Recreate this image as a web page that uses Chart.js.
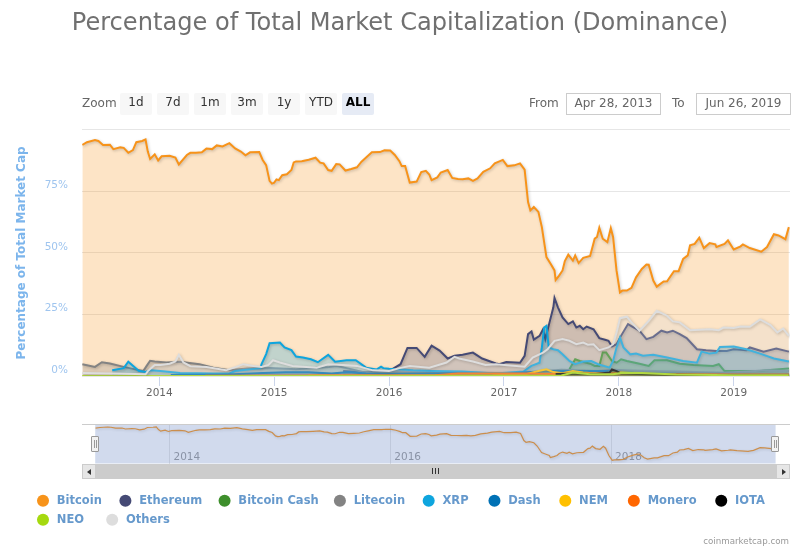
<!DOCTYPE html>
<html><head><meta charset="utf-8">
<script src="https://cdn.jsdelivr.net/npm/chart.js@4"></script>
<style>
html,body{margin:0;padding:0;background:#fff;width:800px;height:550px;overflow:hidden}
body{font-family:"DejaVu Sans",sans-serif;position:relative}
canvas{position:absolute;left:0}
.a{position:absolute;box-sizing:border-box}
.lbl{color:#666;font-size:12px;line-height:20px;top:93px}
.btn{top:93px;height:22px;width:32px;background:#f7f7f7;border-radius:2px;color:#333;font-size:12px;line-height:18px;text-align:center}
.btn.on{background:#e6ebf5;color:#000;font-weight:bold}
.inp{top:93px;height:22px;width:95px;border:1px solid #ccc;color:#666;font-size:12px;line-height:18px;text-align:center}
.handle{top:436px;width:8px;height:16px;background:#f2f2f2;border:1px solid #999;border-radius:1px}
.handle i{position:absolute;top:3px;width:1px;height:8px;background:#999}
</style></head><body>
<canvas id="main" width="800" height="400" style="top:0"></canvas>
<canvas id="nav" width="800" height="130" style="top:420px"></canvas>

<div class="a lbl" style="left:82px">Zoom</div>
<div class="a btn" style="left:120px">1d</div>
<div class="a btn" style="left:157px">7d</div>
<div class="a btn" style="left:194px">1m</div>
<div class="a btn" style="left:231px">3m</div>
<div class="a btn" style="left:268px">1y</div>
<div class="a btn" style="left:305px">YTD</div>
<div class="a btn on" style="left:342px">ALL</div>
<div class="a lbl" style="left:529px">From</div>
<div class="a inp" style="left:566px">Apr 28, 2013</div>
<div class="a lbl" style="left:672px">To</div>
<div class="a inp" style="left:696px">Jun 26, 2019</div>

<div class="a" style="left:82px;top:464px;width:708px;height:15px;background:#ccc"></div>
<div class="a" style="left:82px;top:464px;width:14px;height:15px;background:#e6e6e6;border:1px solid #ccc"></div>
<div class="a" style="left:776px;top:464px;width:14px;height:15px;background:#e6e6e6;border:1px solid #ccc"></div>
<div class="a" style="left:87px;top:469px;border:3px solid transparent;border-right:4px solid #333;border-left:0"></div>
<div class="a" style="left:782px;top:469px;border:3px solid transparent;border-left:4px solid #333;border-right:0"></div>
<div class="a" style="left:432px;top:468px;width:1px;height:6px;background:#333"></div>
<div class="a" style="left:435px;top:468px;width:1px;height:6px;background:#333"></div>
<div class="a" style="left:438px;top:468px;width:1px;height:6px;background:#333"></div>
<div class="a handle" style="left:91px"><i style="left:2px"></i><i style="left:4px"></i></div>
<div class="a handle" style="left:771px"><i style="left:2px"></i><i style="left:4px"></i></div>
<div class="a" style="right:11px;top:534px;font-size:8.7px;color:#999;line-height:14px">coinmarketcap.com</div>

<script>
// [year, percent of total market cap]
const bitcoin=[[2013.33,93.9],[2013.37,95],[2013.44,95.9],[2013.47,95.5],[2013.51,93.9],[2013.57,94],[2013.6,92.2],[2013.66,92.9],[2013.69,92.7],[2013.73,90.7],[2013.77,91.8],[2013.8,95],[2013.85,95.5],[2013.88,96.1],[2013.9,91.2],[2013.92,88.2],[2013.96,90.1],[2013.99,87.6],[2014.02,89.3],[2014.09,89.5],[2014.14,88.8],[2014.17,86],[2014.24,89.8],[2014.27,90.7],[2014.32,90.7],[2014.37,90.9],[2014.41,92.4],[2014.46,92.2],[2014.5,93.7],[2014.55,93.3],[2014.61,94.6],[2014.66,92.5],[2014.71,91.2],[2014.75,89.7],[2014.79,90.9],[2014.87,91],[2014.9,87.8],[2014.93,85.7],[2014.96,79.3],[2014.98,78.2],[2015,78.6],[2015.02,79.9],[2015.04,79.6],[2015.07,81.6],[2015.11,82],[2015.15,83.7],[2015.17,86.8],[2015.19,87.2],[2015.24,87.3],[2015.3,87.9],[2015.36,88.7],[2015.4,86.7],[2015.43,86.4],[2015.47,83.7],[2015.5,83.4],[2015.54,86.1],[2015.57,86],[2015.62,83.5],[2015.67,84.1],[2015.72,84.8],[2015.76,87.1],[2015.8,88.8],[2015.85,90.9],[2015.92,91],[2015.96,91.7],[2016.01,91.6],[2016.05,89.8],[2016.09,87.3],[2016.11,85.3],[2016.14,85.3],[2016.18,78.6],[2016.24,79],[2016.28,82.9],[2016.32,83.4],[2016.35,81.9],[2016.37,79.6],[2016.42,80.7],[2016.45,82.7],[2016.51,83.7],[2016.55,80.5],[2016.6,80.1],[2016.64,80],[2016.69,80.3],[2016.73,79.3],[2016.77,80.3],[2016.82,83],[2016.88,84.4],[2016.92,86.4],[2016.99,87.8],[2017.03,85.3],[2017.09,85.6],[2017.14,86.4],[2017.18,83.9],[2017.21,70.7],[2017.23,67.3],[2017.26,68.7],[2017.3,66.7],[2017.33,60.5],[2017.37,48.3],[2017.41,45.3],[2017.44,42.9],[2017.45,39],[2017.48,40.8],[2017.51,42.9],[2017.53,46.7],[2017.56,49.3],[2017.6,46.9],[2017.62,49],[2017.65,45.9],[2017.69,48],[2017.75,48.8],[2017.79,55.8],[2017.81,56.5],[2017.83,60.3],[2017.86,55.8],[2017.9,54.4],[2017.93,60.1],[2017.95,56.5],[2017.98,42.9],[2018.01,34],[2018.03,34.7],[2018.07,34.7],[2018.11,35.8],[2018.15,40.1],[2018.2,43.5],[2018.24,45.3],[2018.26,45.2],[2018.3,38.8],[2018.33,36.3],[2018.39,38.4],[2018.42,38.5],[2018.48,42.6],[2018.52,42.6],[2018.56,47.6],[2018.6,49],[2018.62,53.1],[2018.66,53.7],[2018.7,56.2],[2018.74,52],[2018.79,54],[2018.84,53.5],[2018.85,52.4],[2018.92,53.7],[2018.95,55.1],[2019,51.4],[2019.06,52.7],[2019.08,53.5],[2019.14,52],[2019.24,50.5],[2019.29,52.4],[2019.35,57.6],[2019.39,57.1],[2019.45,55.6],[2019.48,60.5]];
const ethereum=[[2015.6,2],[2015.8,1.4],[2016,2],[2016.1,4.8],[2016.16,11.4],[2016.24,11.4],[2016.31,7.8],[2016.37,12.3],[2016.44,10.3],[2016.51,7.1],[2016.57,8.2],[2016.64,8.6],[2016.73,9.5],[2016.81,7.1],[2016.93,5.1],[2016.96,4.8],[2017.02,5.7],[2017.14,5.4],[2017.18,8.2],[2017.21,17],[2017.24,18.1],[2017.26,14.8],[2017.31,16.3],[2017.34,19],[2017.36,15],[2017.4,22.4],[2017.43,27.9],[2017.44,31.7],[2017.47,27.9],[2017.51,23.8],[2017.56,21.1],[2017.6,22.2],[2017.63,19.7],[2017.66,20.4],[2017.69,19],[2017.72,20.1],[2017.78,19],[2017.83,15.4],[2017.88,14.7],[2017.91,14.3],[2017.94,12],[2017.98,12.9],[2018.01,15.6],[2018.08,21.1],[2018.12,20],[2018.18,18.4],[2018.24,15],[2018.3,15.9],[2018.37,18.4],[2018.42,17.7],[2018.47,18.4],[2018.53,17],[2018.59,15.4],[2018.68,10.9],[2018.76,10.5],[2018.85,10.2],[2018.94,10.2],[2019,10.9],[2019.11,10.5],[2019.14,11.6],[2019.26,9.9],[2019.37,11.2],[2019.48,9.9]];
const bitcoinCash=[[2017.57,2.7],[2017.62,6.8],[2017.66,6.1],[2017.75,5],[2017.79,4.1],[2017.83,4.1],[2017.86,9.5],[2017.89,9.5],[2017.94,6.1],[2017.98,5.4],[2018.02,6.8],[2018.07,6.1],[2018.18,5],[2018.26,4.1],[2018.31,6.4],[2018.42,6.4],[2018.53,5],[2018.65,4.5],[2018.82,4.1],[2018.87,4.8],[2018.92,2],[2019,2],[2019.23,2],[2019.29,2.3],[2019.48,3.1]];
const litecoin=[[2013.33,4.8],[2013.44,3.7],[2013.5,5.6],[2013.57,5.1],[2013.69,3.7],[2013.79,2.7],[2013.86,2],[2013.89,4.1],[2013.92,6.2],[2013.96,5.9],[2014.06,5.5],[2014.18,5.8],[2014.35,4.8],[2014.47,3.4],[2014.61,2.3],[2014.76,3],[2014.96,3.2],[2015.19,2.7],[2015.48,3.7],[2015.54,4.1],[2015.63,3.2],[2015.77,1.6],[2016,1.4],[2016.5,1.4],[2016.93,1.2],[2017.2,1.2],[2017.3,1.7],[2017.5,2.5],[2017.8,2],[2017.95,2.5],[2018.1,2.2],[2018.5,1.8],[2018.9,1.3],[2019,1.5],[2019.3,2.3],[2019.48,2]];
const xrp=[[2013.59,2.3],[2013.69,3.2],[2013.73,5.8],[2013.79,3.4],[2013.82,2.1],[2013.88,1.6],[2013.9,2],[2013.93,2.3],[2014.01,2],[2014.18,1.2],[2014.47,1],[2014.61,1],[2014.66,2],[2014.88,3.2],[2014.89,4.8],[2014.93,8.9],[2014.96,13.3],[2015.05,13.6],[2015.09,11.6],[2015.15,10.5],[2015.19,7.9],[2015.25,7.5],[2015.32,6.8],[2015.38,5.6],[2015.41,6.6],[2015.47,8.6],[2015.53,5.8],[2015.63,6.4],[2015.71,6.4],[2015.8,3.4],[2015.89,2.6],[2015.93,3.8],[2015.95,3.2],[2016,2.9],[2016.21,2.3],[2016.38,2],[2016.64,1.8],[2016.93,1],[2017.17,1.8],[2017.24,4.1],[2017.31,5.4],[2017.33,11.6],[2017.35,19.7],[2017.37,20.4],[2017.39,11.6],[2017.43,10.9],[2017.47,10.5],[2017.51,8.8],[2017.57,6.1],[2017.62,4.8],[2017.69,5.9],[2017.76,6.1],[2017.82,4.8],[2017.92,3.4],[2017.95,6.1],[2017.98,11.6],[2018.01,15.6],[2018.04,11.6],[2018.1,8.8],[2018.15,9.1],[2018.21,8.2],[2018.3,8.6],[2018.42,7.5],[2018.56,6.1],[2018.68,5.4],[2018.72,9.9],[2018.79,9.1],[2018.85,9.5],[2018.88,11.8],[2019,12],[2019.11,10.9],[2019.23,9.1],[2019.35,7.1],[2019.48,5.9]];
const dash=[[2014.1,0.4],[2014.6,0.6],[2014.9,1.2],[2015.1,1.5],[2015.3,1.5],[2015.5,1],[2015.65,1.6],[2015.8,1],[2016,0.8],[2016.5,1],[2017,0.8],[2017.2,1.5],[2017.4,2],[2017.6,2],[2017.9,2],[2018.2,1],[2018.6,0.8],[2019,0.5],[2019.48,0.6]];
const nem=[[2015.3,0.2],[2016.9,0.3],[2017.2,0.8],[2017.3,2],[2017.37,2.7],[2017.43,1.6],[2017.51,1.1],[2017.6,2],[2017.69,1.4],[2017.8,1],[2018,1.5],[2018.3,0.7],[2019,0.4],[2019.48,0.3]];
const monero=[[2014.4,0.1],[2016.4,0.3],[2016.6,1],[2016.9,1],[2017.2,1],[2017.4,0.8],[2017.6,0.9],[2018,1],[2018.5,0.7],[2019,0.6],[2019.48,0.6]];
const iota=[[2017.45,0.8],[2017.6,0.9],[2017.8,0.8],[2017.92,1.4],[2017.94,2.7],[2017.98,2],[2018.02,1],[2018.3,0.6],[2019,0.3],[2019.48,0.2]];
const neo=[[2013.33,0.05],[2016,0.05],[2017.5,0.2],[2017.6,1.4],[2017.75,0.7],[2017.95,0.7],[2018.03,1.3],[2018.2,1.2],[2018.5,0.6],[2019,0.3],[2019.48,0.3]];
const others=[[2013.33,1.2],[2013.6,1],[2013.88,0.7],[2013.9,2],[2013.96,4.5],[2014.01,4.5],[2014.09,5],[2014.14,5.9],[2014.17,8.6],[2014.21,5.5],[2014.27,4],[2014.41,3.7],[2014.58,2.3],[2014.67,3.7],[2014.73,4.8],[2014.82,4.1],[2014.89,3.7],[2014.95,4.5],[2014.99,6.4],[2015.05,5.5],[2015.16,4.1],[2015.28,3.7],[2015.37,3.4],[2015.47,4.8],[2015.6,4.5],[2015.72,4.1],[2015.86,2.3],[2016,2],[2016.09,3.2],[2016.18,4.1],[2016.35,3.4],[2016.5,5.5],[2016.57,7.8],[2016.61,7.1],[2016.73,5.9],[2016.84,4.5],[2016.93,4.8],[2017.18,3.8],[2017.25,7.5],[2017.34,9.5],[2017.38,10.9],[2017.44,14.3],[2017.51,15],[2017.57,14.3],[2017.63,12.9],[2017.69,13.6],[2017.73,12.7],[2017.78,12.9],[2017.83,10.5],[2017.91,11.6],[2017.95,12.9],[2017.98,17.7],[2018.01,23.5],[2018.07,24.1],[2018.11,21.8],[2018.18,18.4],[2018.26,22.4],[2018.33,26.5],[2018.42,24.5],[2018.47,22.2],[2018.53,21.8],[2018.62,18.6],[2018.79,19],[2018.87,18.6],[2018.91,19.7],[2019,19.5],[2019.06,20.1],[2019.14,20],[2019.23,23],[2019.32,20.7],[2019.38,17.7],[2019.43,19.3],[2019.48,16.3]];

const seriesNames=['Bitcoin','Ethereum','Bitcoin Cash','Litecoin','XRP','Dash','NEM','Monero','IOTA','NEO','Others'];
const seriesData=[bitcoin,ethereum,bitcoinCash,litecoin,xrp,dash,nem,monero,iota,neo,others];
const seriesColors=['#f7931a','#454a75','#3e8f2c','#838383','#0ea5de','#0071b5','#ffc000','#ff6600','#000000','#a5d90f','#dddddd'];
const legendTrail=[2,1,0,2,4,3,4,3,1,6,1];
const yTicks=[0,25,50,75,100];
const mainYears=[2014,2015,2016,2017,2018,2019];
const navYears=[2014,2016,2018];
const xMin=2013.327, xMax=2019.49;
const navMin=2013.2074, navMax=2019.711;

const rgba=(hex,a)=>{const n=parseInt(hex.slice(1),16);return `rgba(${n>>16},${(n>>8)&255},${n&255},${a})`};
const FONT='"DejaVu Sans",sans-serif';

const lineShadow={id:'lineShadow',
  beforeDatasetDraw(c){const x=c.ctx;x.save();x.shadowColor='rgba(0,0,0,0.22)';x.shadowBlur=3;x.shadowOffsetX=1;x.shadowOffsetY=1;},
  afterDatasetDraw(c){c.ctx.restore();}};

new Chart(document.getElementById('main'),{
  type:'line',
  data:{datasets:seriesNames.map((n,i)=>({
    label:n,data:seriesData[i].map(([x,y])=>({x,y})),
    borderColor:seriesColors[i],backgroundColor:rgba(seriesColors[i],0.25),
    borderWidth:2,pointRadius:0,tension:0,fill:'origin',order:seriesNames.length-i
  }))},
  options:{
    responsive:false,animation:false,devicePixelRatio:1,
    layout:{padding:{left:10,right:10,bottom:0}},
    plugins:{
      legend:{display:false},tooltip:{enabled:false},
      title:{display:true,text:'Percentage of Total Market Capitalization (Dominance)',
        color:'#707070',font:{family:FONT,size:24.1,weight:'normal',lineHeight:1.2},padding:{top:9,bottom:92}}
    },
    scales:{
      x:{type:'linear',min:xMin,max:xMax,
        afterBuildTicks:s=>{s.ticks=mainYears.map(v=>({value:v}))},
        afterFit:s=>{s.height=24},
        grid:{drawOnChartArea:false,color:'#ccd6eb',tickLength:10,drawTicks:true},
        border:{display:false},
        ticks:{callback:v=>String(v),color:'#666666',font:{family:FONT,size:10.5},padding:1,maxRotation:0,autoSkip:false}},
      y:{min:0,max:100,
        afterBuildTicks:s=>{s.ticks=yTicks.map(v=>({value:v}))},
        afterFit:s=>{s.width=72},
        grid:{color:'#e6e6e6',drawTicks:false},
        border:{display:false},
        title:{display:true,text:'Percentage of Total Market Cap',color:'#7cb5ec',font:{family:FONT,size:12,weight:'bold'},padding:{top:5,bottom:0}},
        ticks:{callback:v=>v===100?'':v+'%',color:'#9fc5ef',font:{family:FONT,size:10.5},padding:14,labelOffset:-6}}
    }
  },
  plugins:[lineShadow]
});

const navMask={id:'navMask',afterDatasetsDraw(c){
  const s=c.scales.x,a=c.chartArea,x=c.ctx;
  const l=s.getPixelForValue(xMin),r=s.getPixelForValue(xMax);
  x.save();x.fillStyle='rgba(102,133,194,0.3)';x.fillRect(l,a.top,r-l,a.bottom-a.top);
  x.strokeStyle='#cccccc';x.lineWidth=1;x.beginPath();x.moveTo(82,a.top+.5);x.lineTo(790,a.top+.5);x.stroke();x.restore();
}};

new Chart(document.getElementById('nav'),{
  type:'line',
  data:{datasets:seriesNames.map((n,i)=>({
    label:n,data:i===0?seriesData[i].map(([x,y])=>({x,y})):[],
    borderColor:seriesColors[i],backgroundColor:seriesColors[i],
    borderWidth:1.2,pointRadius:0,tension:0,fill:false
  }))},
  options:{
    responsive:false,animation:false,devicePixelRatio:1,
    layout:{padding:{left:29.75,right:0,top:4,bottom:14.5}},
    plugins:{
      tooltip:{enabled:false},
      legend:{position:'bottom',align:'start',
        labels:{usePointStyle:true,pointStyle:'circle',boxWidth:12,boxHeight:8.5,padding:7.5,
          color:'#6699cc',font:{family:FONT,size:11.5,weight:'bold'},
          generateLabels:c=>c.data.datasets.map((d,i)=>({text:'\u2009'+d.label+'\u00a0\u00a0'+'\u200a'.repeat(legendTrail[i]),fillStyle:d.borderColor,strokeStyle:d.borderColor,lineWidth:0,pointStyle:'circle',datasetIndex:i,fontColor:'#6699cc'}))}}
    },
    scales:{
      x:{type:'linear',min:navMin,max:navMax,
        afterBuildTicks:s=>{s.ticks=navYears.map(v=>({value:v}))},
        afterFit:s=>{s.height=24},
        grid:{color:'#e6e6e6',tickLength:0,drawTicks:false},
        border:{display:false},
        ticks:{callback:v=>String(v),color:'#999999',font:{family:FONT,size:10.5},align:'start',labelOffset:4,mirror:true,padding:0,maxRotation:0,autoSkip:false}},
      y:{min:28,max:101.5,display:true,
        afterFit:s=>{s.width=52.25},
        grid:{display:false},border:{display:false},
        ticks:{display:false}}
    }
  },
  plugins:[lineShadow,navMask]
});
</script>
</body></html>
